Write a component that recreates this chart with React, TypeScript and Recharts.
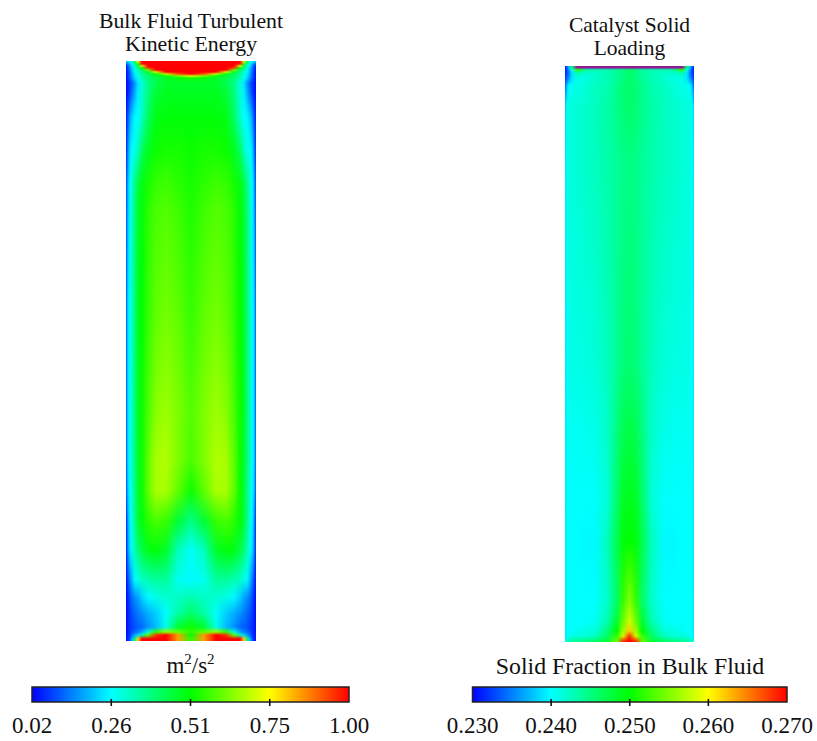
import { ReferenceArea, Scatter, ScatterChart, XAxis, YAxis } from 'recharts';

// lateral stations, measured from the wall towards the centre line (the field is mirrored)
const kineticStations = [0, 2, 4, 6, 9, 12, 16, 22, 30, 40, 52, 65];
const kineticDepths = [1, 3, 5, 7, 9, 11, 13, 15, 17, 22, 32, 56, 89, 122, 150, 250, 350, 400, 430, 460, 489, 519, 536, 552, 566, 571, 574, 578];
const kineticRows = [
  [0.2, 0.22, 0.26, 0.3, 0.42, 0.72, 1, 1, 1, 1, 1, 1],
  [0.1, 0.14, 0.2, 0.26, 0.36, 0.55, 0.98, 1, 1, 1, 1, 1],
  [0.05, 0.1, 0.17, 0.24, 0.32, 0.44, 0.72, 1, 1, 1, 1, 1],
  [0.04, 0.09, 0.15, 0.22, 0.3, 0.38, 0.52, 0.95, 1, 1, 1, 1],
  [0.04, 0.08, 0.14, 0.2, 0.28, 0.34, 0.43, 0.62, 1, 1, 1, 1],
  [0.03, 0.07, 0.13, 0.19, 0.26, 0.32, 0.38, 0.47, 0.72, 1, 1, 1],
  [0.03, 0.07, 0.12, 0.18, 0.25, 0.3, 0.36, 0.43, 0.5, 0.7, 0.92, 1],
  [0.03, 0.07, 0.12, 0.17, 0.24, 0.29, 0.35, 0.41, 0.46, 0.52, 0.62, 0.72],
  [0.03, 0.06, 0.11, 0.16, 0.23, 0.28, 0.34, 0.4, 0.44, 0.47, 0.5, 0.53],
  [0.03, 0.05, 0.08, 0.11, 0.17, 0.24, 0.3, 0.38, 0.44, 0.47, 0.47, 0.47],
  [0.03, 0.05, 0.09, 0.13, 0.19, 0.25, 0.31, 0.39, 0.46, 0.48, 0.48, 0.48],
  [0.05, 0.1, 0.18, 0.22, 0.26, 0.27, 0.32, 0.42, 0.49, 0.5, 0.5, 0.5],
  [0.06, 0.15, 0.24, 0.27, 0.28, 0.33, 0.42, 0.48, 0.52, 0.53, 0.53, 0.52],
  [0.08, 0.2, 0.27, 0.31, 0.38, 0.45, 0.49, 0.53, 0.56, 0.57, 0.55, 0.53],
  [0.09, 0.21, 0.28, 0.32, 0.4, 0.47, 0.5, 0.55, 0.58, 0.59, 0.57, 0.54],
  [0.1, 0.24, 0.28, 0.32, 0.4, 0.48, 0.51, 0.56, 0.6, 0.62, 0.6, 0.56],
  [0.1, 0.24, 0.28, 0.32, 0.4, 0.48, 0.52, 0.58, 0.64, 0.66, 0.63, 0.59],
  [0.1, 0.24, 0.28, 0.32, 0.4, 0.47, 0.52, 0.6, 0.67, 0.68, 0.63, 0.58],
  [0.09, 0.22, 0.27, 0.31, 0.39, 0.46, 0.52, 0.6, 0.67, 0.67, 0.6, 0.52],
  [0.05, 0.18, 0.26, 0.3, 0.38, 0.46, 0.5, 0.55, 0.58, 0.56, 0.46, 0.38],
  [0.05, 0.16, 0.24, 0.28, 0.34, 0.4, 0.44, 0.49, 0.5, 0.47, 0.33, 0.27],
  [0.03, 0.09, 0.15, 0.2, 0.26, 0.29, 0.32, 0.34, 0.36, 0.36, 0.28, 0.26],
  [0.03, 0.06, 0.1, 0.13, 0.16, 0.18, 0.22, 0.26, 0.29, 0.31, 0.32, 0.34],
  [0.03, 0.05, 0.08, 0.1, 0.12, 0.14, 0.16, 0.19, 0.22, 0.27, 0.35, 0.41],
  [0.03, 0.05, 0.07, 0.08, 0.1, 0.11, 0.12, 0.16, 0.2, 0.29, 0.46, 0.52],
  [0.03, 0.05, 0.07, 0.1, 0.12, 0.14, 0.18, 0.3, 0.55, 0.65, 0.6, 0.55],
  [0.04, 0.05, 0.08, 0.12, 0.18, 0.22, 0.35, 0.6, 0.95, 1, 0.85, 0.5],
  [0.04, 0.06, 0.1, 0.2, 0.4, 0.8, 1, 1, 1, 1, 0.85, 0.55],
];

const solidStations = [0, 2, 4, 7, 12, 20, 30, 42, 52, 58, 64.5];
const solidDepths = [1.5, 4, 7, 12, 20, 40, 100, 300, 435, 475, 535, 555, 565, 570, 575];
const solidRows = [
  [0.231, 0.234, 0.238, 0.245, 0.3, 0.3, 0.3, 0.3, 0.3, 0.3, 0.3],
  [0.231, 0.233, 0.236, 0.24, 0.252, 0.244, 0.243, 0.243, 0.244, 0.245, 0.246],
  [0.231, 0.233, 0.235, 0.239, 0.243, 0.242, 0.242, 0.243, 0.244, 0.245, 0.246],
  [0.232, 0.234, 0.236, 0.239, 0.241, 0.241, 0.242, 0.243, 0.244, 0.245, 0.246],
  [0.234, 0.238, 0.24, 0.2408, 0.241, 0.2415, 0.2425, 0.243, 0.2445, 0.2455, 0.2458],
  [0.238, 0.2405, 0.2412, 0.2415, 0.2415, 0.242, 0.2425, 0.2435, 0.2445, 0.2455, 0.2458],
  [0.239, 0.2405, 0.2412, 0.2414, 0.2416, 0.242, 0.2425, 0.2433, 0.244, 0.2446, 0.2448],
  [0.239, 0.2402, 0.2407, 0.241, 0.241, 0.2411, 0.2415, 0.2425, 0.2441, 0.2452, 0.2457],
  [0.239, 0.24, 0.24, 0.24, 0.24, 0.24, 0.2402, 0.2415, 0.246, 0.2485, 0.249],
  [0.239, 0.24, 0.24, 0.24, 0.24, 0.2398, 0.2398, 0.2425, 0.247, 0.2495, 0.25],
  [0.239, 0.24, 0.24, 0.24, 0.24, 0.24, 0.24, 0.242, 0.246, 0.252, 0.255],
  [0.239, 0.24, 0.24, 0.24, 0.24, 0.24, 0.2405, 0.243, 0.248, 0.254, 0.258],
  [0.239, 0.24, 0.24, 0.24, 0.2405, 0.241, 0.2415, 0.245, 0.25, 0.256, 0.262],
  [0.239, 0.24, 0.2405, 0.241, 0.2415, 0.2415, 0.2425, 0.246, 0.252, 0.258, 0.268],
  [0.241, 0.242, 0.243, 0.244, 0.244, 0.245, 0.246, 0.248, 0.254, 0.268, 0.27],
];

const kineticScale = [0.02, 0.265, 0.51, 0.755, 1.0];
const kineticLabels = ['0.02', '0.26', '0.51', '0.75', '1.00'];
const solidScale = [0.23, 0.24, 0.25, 0.26, 0.27];
const solidLabels = ['0.230', '0.240', '0.250', '0.260', '0.270'];

const RAMP = ['#0000ff', '#00ffff', '#00ff00', '#ffff00', '#ff0000'];
const OVER_RANGE = '#8f1a96';
const FONT = '"Liberation Serif", "Times New Roman", serif';

function channel(a: string, b: string, f: number) {
  const out = [1, 3, 5].map((i) => {
    const p = parseInt(a.slice(i, i + 2), 16);
    const q = parseInt(b.slice(i, i + 2), 16);
    return Math.round(p + (q - p) * f);
  });
  return `rgb(${out.join(',')})`;
}

function colorOf(value: number, scale: number[]) {
  if (value > scale[4] + 0.001 && scale[4] < 0.5) return OVER_RANGE;
  if (value <= scale[0]) return RAMP[0];
  for (let i = 1; i < scale.length; i++) {
    if (value <= scale[i]) {
      return channel(RAMP[i - 1], RAMP[i], (value - scale[i - 1]) / (scale[i] - scale[i - 1]));
    }
  }
  return RAMP[4];
}

interface FieldProps {
  id: string;
  left: number;
  top: number;
  width: number;
  height: number;
  stations: number[];
  depths: number[];
  rows: number[][];
  scale: number[];
}

function Field({ id, left, top, width, height, stations, depths, rows, scale }: FieldProps) {
  const data = depths.map((y, i) => ({ x: width / 2, y, values: rows[i], index: i }));

  // each row fades in from the row above it, so the painted field blends between rows
  const renderRow = (props: any) => {
    const { cx, cy, payload } = props;
    const i = payload.index;
    const y = payload.y;
    const from = i === 0 ? 0 : depths[i - 1];
    const fade = i === 0 ? 0 : (y - from) / (height - from);
    const near = stations.map((s, k) => ({ at: s, v: payload.values[k] }));
    const far = stations
      .slice(0, -1)
      .map((s, k) => ({ at: width - s, v: payload.values[k] }))
      .reverse();
    const gid = `${id}-row-${i}`;
    const box = { x: cx - width / 2, y: cy + from - y, width, height: height - from };
    return (
      <g>
        <linearGradient id={gid} x1="0" x2="1" y1="0" y2="0">
          {[...near, ...far].map((stop, k) => (
            <stop key={k} offset={stop.at / width} stopColor={colorOf(stop.v, scale)} />
          ))}
        </linearGradient>
        <linearGradient id={`${gid}-fade`} x1="0" x2="0" y1="0" y2="1">
          <stop offset={0} stopColor="#fff" stopOpacity={i === 0 ? 1 : 0} />
          <stop offset={fade} stopColor="#fff" stopOpacity={1} />
          <stop offset={1} stopColor="#fff" stopOpacity={1} />
        </linearGradient>
        <mask id={`${gid}-mask`} maskUnits="userSpaceOnUse" {...box}>
          <rect {...box} fill={`url(#${gid}-fade)`} />
        </mask>
        <rect {...box} fill={`url(#${gid})`} mask={`url(#${gid}-mask)`} />
      </g>
    );
  };

  return (
    <div style={{ position: 'absolute', left, top }}>
      <ScatterChart width={width} height={height} margin={{ top: 0, bottom: 0, left: 0, right: 0 }}>
        <XAxis type="number" dataKey="x" domain={[0, width]} hide />
        <YAxis type="number" dataKey="y" domain={[0, height]} reversed hide />
        <Scatter data={data} shape={renderRow} isAnimationActive={false} />
      </ScatterChart>
    </div>
  );
}

interface BarProps {
  id: string;
  left: number;
  width: number;
  marginLeft: number;
  marginRight: number;
  scale: number[];
  labels: string[];
}

function ColorBar({ id, left, width, marginLeft, marginRight, scale, labels }: BarProps) {
  const marks = scale.slice(1, -1).map((x) => ({ x, y: 0 }));

  const renderTick = (props: any) => {
    const { x, index } = props;
    return (
      <text x={x} y={733} textAnchor="middle" fontFamily={FONT} fontSize={23} fill="#111">
        {labels[index]}
      </text>
    );
  };

  const renderMark = (props: any) => (
    <line x1={props.cx} x2={props.cx} y1={props.cy - 3} y2={props.cy + 4} stroke="#111" strokeWidth={1.6} />
  );

  return (
    <div style={{ position: 'absolute', left, top: 0 }}>
      <ScatterChart width={width} height={741} margin={{ top: 687, bottom: 0, left: marginLeft, right: marginRight }}>
        <defs>
          <linearGradient id={id} x1="0" x2="1" y1="0" y2="0">
            {RAMP.map((c, i) => (
              <stop key={c} offset={i / 4} stopColor={c} />
            ))}
          </linearGradient>
        </defs>
        <XAxis
          type="number"
          dataKey="x"
          domain={[scale[0], scale[4]]}
          ticks={scale}
          interval={0}
          height={39}
          axisLine={false}
          tickLine={false}
          tick={renderTick}
        />
        <YAxis type="number" dataKey="y" domain={[0, 1]} hide />
        <ReferenceArea
          x1={scale[0]}
          x2={scale[4]}
          y1={0}
          y2={1}
          fill={`url(#${id})`}
          fillOpacity={1}
          stroke="#222"
          strokeWidth={1.5}
        />
        <Scatter data={marks} shape={renderMark} isAnimationActive={false} />
      </ScatterChart>
    </div>
  );
}

function Caption({ center, top, size, children }: { center: number; top: number; size: number; children: any }) {
  return (
    <div
      style={{
        position: 'absolute',
        left: center - 200,
        width: 400,
        top,
        textAlign: 'center',
        fontFamily: FONT,
        fontSize: size,
        lineHeight: '22.5px',
        color: '#111',
      }}
    >
      {children}
    </div>
  );
}

export default function App() {
  return (
    <div style={{ position: 'absolute', left: 0, top: 0, width: 817, height: 741, background: '#fff', overflow: 'hidden' }}>
      <Caption center={191} top={10} size={21.8}>
        Bulk Fluid Turbulent
        <br />
        Kinetic Energy
      </Caption>
      <Caption center={629.5} top={14} size={21.5}>
        Catalyst Solid
        <br />
        Loading
      </Caption>
      <Field
        id="kinetic"
        left={126}
        top={61}
        width={130}
        height={580}
        stations={kineticStations}
        depths={kineticDepths}
        rows={kineticRows}
        scale={kineticScale}
      />
      <Field
        id="solid"
        left={565}
        top={65.5}
        width={129}
        height={576}
        stations={solidStations}
        depths={solidDepths}
        rows={solidRows}
        scale={solidScale}
      />
      <Caption center={190.5} top={655} size={23}>
        m<sup style={{ fontSize: 15, lineHeight: 0 }}>2</sup>/s<sup style={{ fontSize: 15, lineHeight: 0 }}>2</sup>
      </Caption>
      <Caption center={630} top={655} size={23.8}>
        Solid Fraction in Bulk Fluid
      </Caption>
      <ColorBar id="kinetic-ramp" left={0} width={400} marginLeft={32} marginRight={51} scale={kineticScale} labels={kineticLabels} />
      <ColorBar id="solid-ramp" left={417} width={400} marginLeft={55.5} marginRight={30} scale={solidScale} labels={solidLabels} />
    </div>
  );
}
